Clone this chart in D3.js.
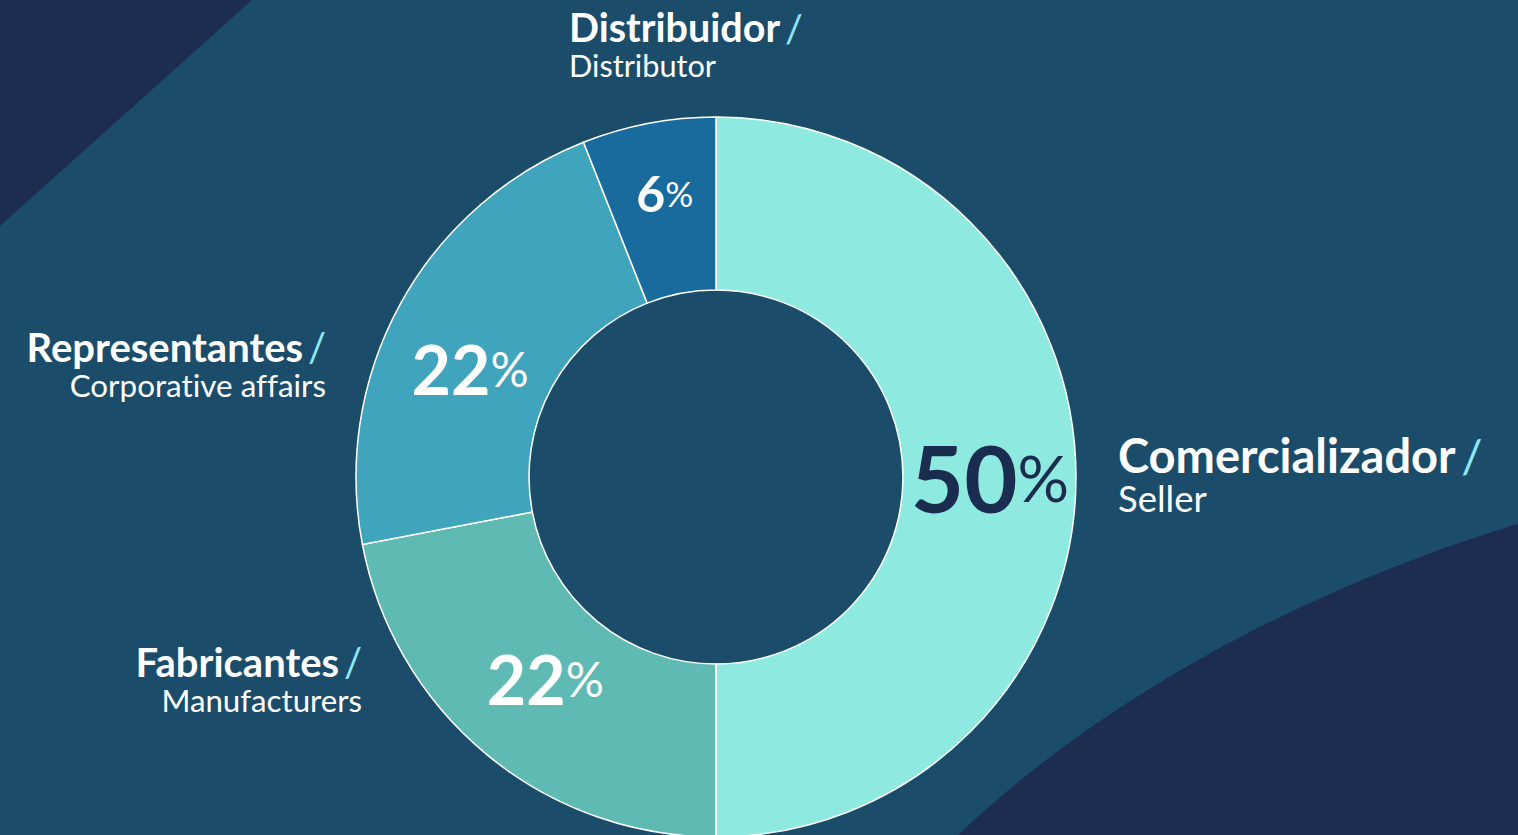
<!DOCTYPE html>
<html>
<head>
<meta charset="utf-8">
<script src="https://cdn.jsdelivr.net/npm/d3@7"></script>
<style>
  html, body { margin: 0; padding: 0; background: #1b4d6b; overflow: hidden; }
  svg { display: block; }
  text { font-family: Lato, "Open Sans", sans-serif; font-variant-ligatures: none; }
</style>
</head>
<body>
<svg id="chart" width="1518" height="835"></svg>
<script>
// Share of respondents by role
const categories = ["Comercializador", "Fabricantes", "Representantes", "Distribuidor"];
const translations = ["Seller", "Manufacturers", "Corporative affairs", "Distributor"];
const shares = [50, 22, 22, 6];
const sliceColors = ["#8eeae0", "#5fbab3", "#40a4bc", "#186b9c"];
const valueColors = ["#1b2d4f", "#ffffff", "#ffffff", "#ffffff"];

const W = 1518, H = 835;
const cx = 716, cy = 477;
const outerR = 360, innerR = 187;

const svg = d3.select("#chart");

// background with the two navy corner shapes
svg.append("rect").attr("width", W).attr("height", H).attr("fill", "#1b4d6b");
svg.append("path")
  .attr("d", "M0,0 L252,0 L0,226 Z")
  .attr("fill", "#1c2d4f");
svg.append("path")
  .attr("d", "M958,835 C1100,700 1300,590 1518,524 L1518,835 Z")
  .attr("fill", "#1c2d4f");

const data = categories.map((c, i) => ({
  name: c, sub: translations[i], value: shares[i],
  color: sliceColors[i], textColor: valueColors[i]
}));

const pie = d3.pie().sort(null).value(d => d.value);
const arc = d3.arc().innerRadius(innerR).outerRadius(outerR);
const arcs = pie(data);

const g = svg.append("g").attr("transform", `translate(${cx},${cy})`);

g.selectAll("path.slice")
  .data(arcs)
  .join("path")
  .attr("class", "slice")
  .attr("d", arc)
  .attr("fill", d => d.data.color)
  .attr("stroke", "#ffffff")
  .attr("stroke-width", 1.5);

// value labels inside the ring: size, distance from centre, angular nudge (deg)
const valueStyle = {
  Comercializador: { fs: 92, r: 274, nudge: 0 },
  Fabricantes:     { fs: 68, r: 264, nudge: 0.7 },
  Representantes:  { fs: 68, r: 269, nudge: -4.9 },
  Distribuidor:    { fs: 50, r: 289, nudge: 0.6 }
};

arcs.forEach(d => {
  const s = valueStyle[d.data.name];
  const mid = (d.startAngle + d.endAngle) / 2 + s.nudge * Math.PI / 180;
  const x = Math.sin(mid) * s.r, y = -Math.cos(mid) * s.r;
  const t = g.append("text")
    .attr("x", x).attr("y", y)
    .attr("text-anchor", "middle")
    .attr("dominant-baseline", "central")
    .attr("fill", d.data.textColor);
  t.append("tspan").attr("font-size", s.fs).attr("font-weight", 700).text(d.data.value);
  t.append("tspan").attr("font-size", s.fs * 0.7).attr("font-weight", 400).text("%");
});

// category labels outside the ring: name / translation on two lines
const labelPos = {
  Comercializador: { x: 1118, y: 473, anchor: "start", fs: 47, fs2: 36.5, gap: 39 },
  Distribuidor:    { x: 569,  y: 42,  anchor: "start", fs: 39.5, fs2: 30.7, gap: 35 },
  Representantes:  { x: 326,  y: 362, anchor: "end",   fs: 40, fs2: 31.4, gap: 35 },
  Fabricantes:     { x: 362,  y: 677, anchor: "end",   fs: 40, fs2: 31.2, gap: 35 }
};

data.forEach(d => {
  const p = labelPos[d.name];
  const t = svg.append("text")
    .attr("x", p.x).attr("y", p.y)
    .attr("text-anchor", p.anchor);
  t.append("tspan")
    .attr("font-size", p.fs).attr("fill", "#ffffff").attr("font-weight", 700)
    .text(d.name);
  t.append("tspan")
    .attr("dx", p.fs * 0.12)
    .attr("font-size", p.fs).attr("fill", "#8fe6f5").attr("font-weight", 400)
    .text("/");
  t.append("tspan")
    .attr("x", p.x).attr("dy", p.gap)
    .attr("font-size", p.fs2).attr("fill", "#ffffff").attr("font-weight", 400)
    .text(d.sub);
});
</script>
</body>
</html>
